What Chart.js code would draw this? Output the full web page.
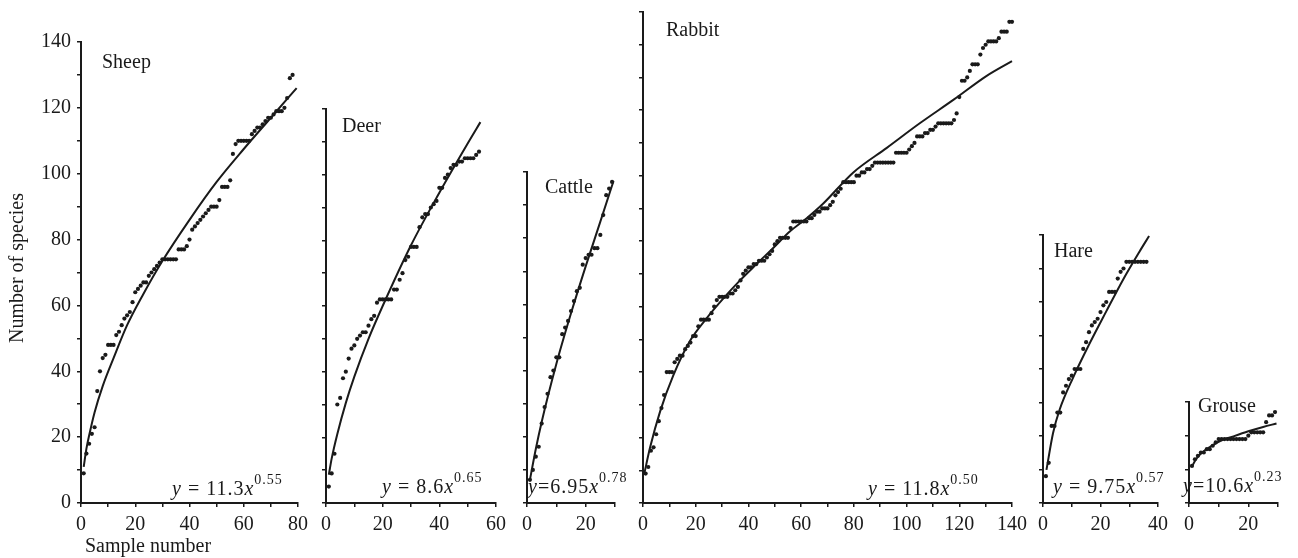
<!DOCTYPE html>
<html>
<head>
<meta charset="utf-8">
<script src="https://cdn.jsdelivr.net/npm/chart.js@4.4.1/dist/chart.umd.min.js"></script>
<style>
html, body { margin: 0; padding: 0; background: #fff; }
#wrap { position: relative; width: 1298px; height: 558px; }
#wrap canvas { position: absolute; left: 0; top: 0; }
</style>
</head>
<body>
<div id="wrap">
  <canvas id="sheep" width="1298" height="558"></canvas>
  <canvas id="deer" width="1298" height="558"></canvas>
  <canvas id="cattle" width="1298" height="558"></canvas>
  <canvas id="rabbit" width="1298" height="558"></canvas>
  <canvas id="hare" width="1298" height="558"></canvas>
  <canvas id="grouse" width="1298" height="558"></canvas>
</div>
<script>
// cumulative species counts, one value per sample (sample 1, 2, 3 ...)
const sheepSpecies = [9, 15, 18, 21, 23, 34, 40, 44, 45, 48, 48, 48, 51, 52, 54, 56, 57, 58, 61, 64,
  65, 66, 67, 67, 69, 70, 71, 72, 73, 74, 74, 74, 74, 74, 74, 77, 77, 77, 78, 80,
  83, 84, 85, 86, 87, 88, 89, 90, 90, 90, 92, 96, 96, 96, 98, 106, 109, 110, 110, 110,
  110, 110, 112, 113, 114, 114, 115, 116, 117, 117, 118, 119, 119, 119, 120, 123, 129, 130];
const deerSpecies = [5, 9, 15, 30, 32, 38, 40, 44, 47, 48, 50, 51, 52, 52, 54, 56, 57, 61, 62, 62,
  62, 62, 62, 65, 65, 68, 70, 74, 75, 78, 78, 78, 84, 87, 88, 88, 90, 91, 92, 96,
  96, 99, 100, 102, 103, 103, 104, 104, 105, 105, 105, 105, 106, 107];
const cattleSpecies = [7, 10, 14, 17, 24, 29, 33, 38, 40, 44, 44, 51, 53, 55, 58, 61, 64, 65, 72, 74,
  75, 75, 77, 77, 81, 87, 93, 95, 97];
const rabbitSpecies = [9, 11, 16, 17, 21, 25, 29, 33, 40, 40, 40, 43, 44, 45, 45, 47, 48, 49, 51, 51,
  54, 56, 56, 56, 56, 58, 60, 62, 63, 63, 63, 63, 64, 64, 65, 66, 68, 70, 71, 72,
  72, 73, 73, 74, 74, 74, 75, 76, 77, 79, 80, 81, 81, 81, 81, 84, 86, 86, 86, 86,
  86, 86, 87, 87, 88, 89, 89, 90, 90, 90, 91, 92, 94, 95, 96, 98, 98, 98, 98, 98,
  100, 100, 101, 101, 102, 102, 103, 104, 104, 104, 104, 104, 104, 104, 104, 107, 107, 107, 107, 107,
  108, 109, 110, 112, 112, 112, 113, 113, 114, 114, 115, 116, 116, 116, 116, 116, 116, 117, 119, 124,
  129, 129, 130, 132, 134, 134, 134, 137, 139, 140, 141, 141, 141, 141, 142, 144, 144, 144, 147, 147];
const hareSpecies = [8, 12, 23, 23, 27, 27, 33, 35, 37, 38, 40, 40, 40, 46, 48, 51, 53, 54, 55, 57,
  59, 60, 63, 63, 63, 67, 69, 70, 72, 72, 72, 72, 72, 72, 72, 72];
const grouseSpecies = [11, 13, 14, 15, 15, 16, 16, 17, 18, 19, 19, 19, 19, 19, 19, 19, 19, 19, 19, 20,
  21, 21, 21, 21, 21, 24, 26, 26, 27];

// fitted power curves
const sheepFitX = [1, 2, 3, 5, 8, 12, 17, 23, 30, 40, 50, 60, 70, 79.5];
const sheepFitY = [11, 16.5, 20.5, 27.5, 35.5, 44, 54, 63.5, 73.5, 86, 97.5, 107.5, 117, 126];
const deerFitX = [1, 2, 4, 7, 10, 15, 20, 30, 40, 50, 54.5];
const deerFitY = [8.6, 13.5, 21, 30.5, 38.5, 50, 60, 78.5, 94.5, 109.5, 116];
const cattleFitX = [1, 3, 5, 10, 15, 20, 25, 29.5];
const cattleFitY = [7, 16.3, 24.5, 42, 57.3, 71.5, 85, 97.3];
const rabbitFitX = [0.5, 2.7, 6.5, 11.5, 17.8, 24.2, 30.5, 36.8, 43.1, 49.5, 55.8, 62.1, 68.4, 79.8, 92.5, 105, 118, 130.4, 140];
const rabbitFitY = [9, 17, 28, 39, 49.5, 56.5, 62.5, 68, 73, 78, 83, 87, 91.5, 101, 108.5, 116, 123.3, 130.5, 135];
const hareFitX = [1.2, 3.5, 5.8, 10.4, 16.2, 22, 27.8, 33.6, 36.9];
const hareFitY = [9.9, 20.9, 27.9, 37.3, 47.6, 57.2, 66.6, 75.1, 79.7];
const grouseFitX = [1, 2, 4, 7, 10, 15, 20, 25, 29.5];
const grouseFitY = [10.8, 12.5, 14.7, 16.6, 18.2, 19.8, 21.3, 22.6, 23.6];

// axis ranges
const sheepMax = { x: 80, y: 140 };
const deerMax = { x: 60, y: 120 };
const cattleMax = { x: 30, y: 100 };
const rabbitMax = { x: 140, y: 150 };
const hareMax = { x: 40, y: 80 };
const grouseMax = { x: 30, y: 30 };

const W = 1298, H = 558;
const AXW = 50, AXH = 40; // fixed room for tick labels
const ink = '#1a1a1a';
const serif = '"Liberation Serif", "Times New Roman", serif';

function axis(max, showLabels) {
  return {
    type: 'linear',
    min: 0,
    max: max,
    afterFit: s => { if (s.isHorizontal()) s.height = AXH; else s.width = AXW; },
    border: { display: true, color: ink, width: 2 },
    grid: { drawOnChartArea: false, drawTicks: true, tickLength: 4, color: ink, lineWidth: 1.5 },
    ticks: {
      display: showLabels,
      stepSize: 10,
      autoSkip: false,
      maxRotation: 0,
      padding: 6,
      color: ink,
      font: { family: serif, size: 20 },
      callback: v => (v % 20 === 0 ? String(v) : '')
    }
  };
}

function drawEquation(ctx, x, y, coef, power) {
  const big = '20px ' + serif, bigIt = 'italic 20px ' + serif, small = '14px ' + serif;
  const parts = [[bigIt, 'y', 0], [big, coef, 0], [bigIt, 'x', 0], [small, power, -11]];
  ctx.letterSpacing = '1px';
  parts.forEach(([font, txt, dy]) => {
    ctx.font = font;
    ctx.fillText(txt, x, y + dy);
    x += ctx.measureText(txt).width;
  });
  ctx.letterSpacing = '0px';
}

const labelPlugin = {
  id: 'labels',
  afterDraw(chart, args, opts) {
    const ctx = chart.ctx;
    ctx.save();
    ctx.fillStyle = ink;
    ctx.textBaseline = 'alphabetic';
    ctx.textAlign = 'left';
    ctx.font = '20px ' + serif;
    ctx.fillText(opts.name, opts.nameX, opts.nameY);
    drawEquation(ctx, opts.eqX, opts.eqY, opts.coef, opts.power);
    if (opts.titles) {
      ctx.font = '20px ' + serif;
      ctx.fillText('Sample number', 85, 552);
      ctx.translate(23, 268);
      ctx.rotate(-Math.PI / 2);
      ctx.textAlign = 'center';
      ctx.fillText('Number of species', 0, 0);
    }
    ctx.restore();
  }
};

function panel(id, box, max, counts, fitX, fitY, yLabels, text) {
  const dots = counts.map((v, i) => ({ x: i + 1, y: v }));
  const fit = fitX.map((x, i) => ({ x: x, y: fitY[i] }));
  return new Chart(document.getElementById(id), {
    type: 'scatter',
    data: {
      datasets: [
        { data: fit, showLine: true, borderColor: ink, borderWidth: 2, pointRadius: 0,
          cubicInterpolationMode: 'monotone', clip: false },
        { data: dots, pointRadius: 2.1, backgroundColor: ink, borderWidth: 0, clip: false }
      ]
    },
    options: {
      responsive: false,
      animation: false,
      events: [],
      layout: { padding: { left: box.l - AXW, top: box.t, right: W - box.r, bottom: H - box.b - AXH } },
      plugins: { legend: { display: false }, tooltip: { enabled: false }, labels: text },
      scales: { x: axis(max.x, true), y: axis(max.y, yLabels) }
    },
    plugins: [labelPlugin]
  });
}

panel('sheep', { l: 81, r: 298, t: 42, b: 503 }, sheepMax, sheepSpecies, sheepFitX, sheepFitY, true,
  { name: 'Sheep', nameX: 102, nameY: 68, eqX: 172, eqY: 495, coef: ' = 11.3', power: '0.55', titles: true });
panel('deer', { l: 326, r: 496, t: 109, b: 503 }, deerMax, deerSpecies, deerFitX, deerFitY, false,
  { name: 'Deer', nameX: 342, nameY: 132, eqX: 382, eqY: 493, coef: ' = 8.6', power: '0.65' });
panel('cattle', { l: 527, r: 615, t: 172, b: 503 }, cattleMax, cattleSpecies, cattleFitX, cattleFitY, false,
  { name: 'Cattle', nameX: 545, nameY: 193, eqX: 528, eqY: 493, coef: '=6.95', power: '0.78' });
panel('rabbit', { l: 643, r: 1012, t: 12, b: 503 }, rabbitMax, rabbitSpecies, rabbitFitX, rabbitFitY, false,
  { name: 'Rabbit', nameX: 666, nameY: 36, eqX: 868, eqY: 495, coef: ' = 11.8', power: '0.50' });
panel('hare', { l: 1043, r: 1158, t: 235, b: 503 }, hareMax, hareSpecies, hareFitX, hareFitY, false,
  { name: 'Hare', nameX: 1054, nameY: 257, eqX: 1053, eqY: 493, coef: ' = 9.75', power: '0.57' });
panel('grouse', { l: 1189, r: 1278, t: 402, b: 503 }, grouseMax, grouseSpecies, grouseFitX, grouseFitY, false,
  { name: 'Grouse', nameX: 1198, nameY: 412, eqX: 1183, eqY: 492, coef: '=10.6', power: '0.23' });
</script>
</body>
</html>
